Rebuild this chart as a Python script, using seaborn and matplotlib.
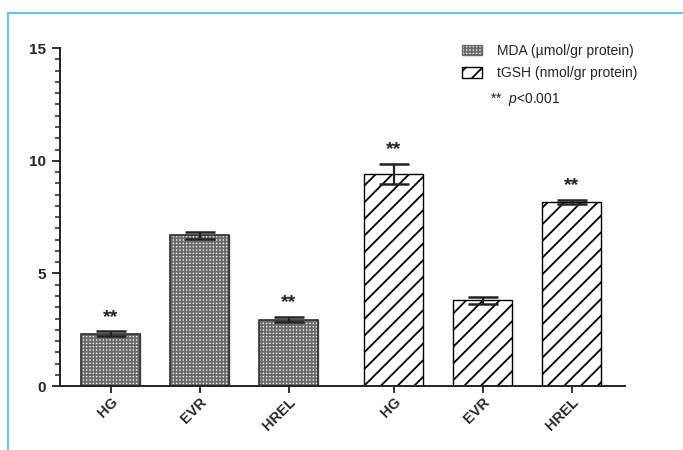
import matplotlib
matplotlib.use("Agg")
import matplotlib.pyplot as plt
import matplotlib.patches as mpatches
from matplotlib.lines import Line2D
from matplotlib.ticker import MultipleLocator
import numpy as np
import pandas as pd
import seaborn as sns

# Data: oxidative stress markers per group
groups = ["HG", "EVR", "HREL"]
mda_mean = [2.33, 6.70, 2.95]
mda_err = [0.10, 0.15, 0.12]
tgsh_mean = [9.40, 3.80, 8.18]
tgsh_err = [0.45, 0.15, 0.08]
significant = [True, False, True, True, False, True]
series_labels = ["MDA (\u00b5mol/gr protein)", "tGSH (nmol/gr protein)"]

sns.set_theme(style="white")
plt.rcParams["font.family"] = ["Liberation Sans", "DejaVu Sans"]
plt.rcParams["mathtext.fontset"] = "custom"
plt.rcParams["mathtext.it"] = "Liberation Sans:italic"
plt.rcParams["mathtext.rm"] = "Liberation Sans"
plt.rcParams["hatch.linewidth"] = 1.3

positions = [0, 1, 2, 3.18, 4.18, 5.18]
df = pd.DataFrame({
    "pos": positions,
    "value": mda_mean + tgsh_mean,
    "err": mda_err + tgsh_err,
    "marker": [series_labels[0]] * 3 + [series_labels[1]] * 3,
    "label": groups + groups,
})

fig = plt.figure(figsize=(6.83, 4.5), dpi=100)
ax = fig.add_axes([0.088, 0.142, 0.827, 0.751])

sns.barplot(data=df, x="pos", y="value", hue="marker", native_scale=True,
            dodge=False, width=0.66, errorbar=None, legend=False, ax=ax,
            palette=["#d9d9d9", "white"])

styles = {series_labels[0]: dict(hatch="+++++", ec="#6a6a6a", fc="#f0f0f0"),
          series_labels[1]: dict(hatch="//", ec="black", fc="white")}
bars = sorted([p for p in ax.patches if p.get_height() > 0], key=lambda p: p.get_x())
for bar, m in zip(bars, df["marker"]):
    st = styles[m]
    bar.set_facecolor(st["fc"])
    bar.set_edgecolor(st["ec"])
    bar.set_hatch(st["hatch"])
    bar.set_linewidth(1.0)
    bar.set_width(0.66)
    if m == series_labels[0]:
        # darker outline drawn over the lighter hatched fill
        ax.add_patch(mpatches.Rectangle((bar.get_x(), 0), bar.get_width(), bar.get_height(),
                                        fill=False, edgecolor="#333333", linewidth=1.2,
                                        zorder=bar.get_zorder() + 0.1))

ax.errorbar(df["pos"], df["value"], yerr=df["err"], fmt="none",
            ecolor="#222222", elinewidth=1.6, capsize=11, capthick=1.8, zorder=5)

for x, v, e, s in zip(df["pos"], df["value"], df["err"], significant):
    if s:
        ax.text(x, v + e + 0.25, "**", ha="center", va="bottom",
                fontsize=14, fontweight="bold", color="#222222")

ax.set_ylim(0, 15)
ax.set_xlim(-0.57, 5.78)
ax.yaxis.set_major_locator(MultipleLocator(5))
ax.yaxis.set_minor_locator(MultipleLocator(0.5))
ax.set_xticks(positions)
ax.set_xticklabels(df["label"], rotation=45, ha="right", rotation_mode="anchor",
                   fontweight="bold", fontsize=10.5)
for t in ax.get_yticklabels():
    t.set_fontweight("bold")
    t.set_fontsize(11)
ax.tick_params(axis="y", which="major", left=True, length=6, width=1.3, color="#222222", pad=4)
ax.tick_params(axis="y", which="minor", left=True, length=3.5, width=1.1, color="#222222")
ax.tick_params(axis="x", which="major", bottom=True, length=5, width=1.3, color="#222222", pad=1.5)
ax.set_xlabel("")
ax.set_ylabel("")
for side in ["top", "right"]:
    ax.spines[side].set_visible(False)
for side in ["left", "bottom"]:
    ax.spines[side].set_color("#222222")
    ax.spines[side].set_linewidth(1.4)

handles = [mpatches.Patch(facecolor=styles[m]["fc"], edgecolor=styles[m]["ec"],
                          hatch=styles[m]["hatch"], label=m) for m in series_labels]
leg = ax.legend(handles=handles, loc="upper left", bbox_to_anchor=(0.69, 1.05),
                frameon=False, fontsize=10, handlelength=1.4, handleheight=0.8,
                handletextpad=1.1, labelspacing=0.6)
fig.text(0.717, 0.778, "**  $p$<0.001", fontsize=10, ha="left", va="center", color="#222222")

# blue frame lines
frame_color = "#62c6e3"
fig.add_artist(Line2D([8 / 683, 1], [1 - 13 / 450, 1 - 13 / 450], color=frame_color, lw=1.5))
fig.add_artist(Line2D([8 / 683, 8 / 683], [0, 1 - 13 / 450], color=frame_color, lw=1.5))

fig.savefig("out.png", dpi=100)
